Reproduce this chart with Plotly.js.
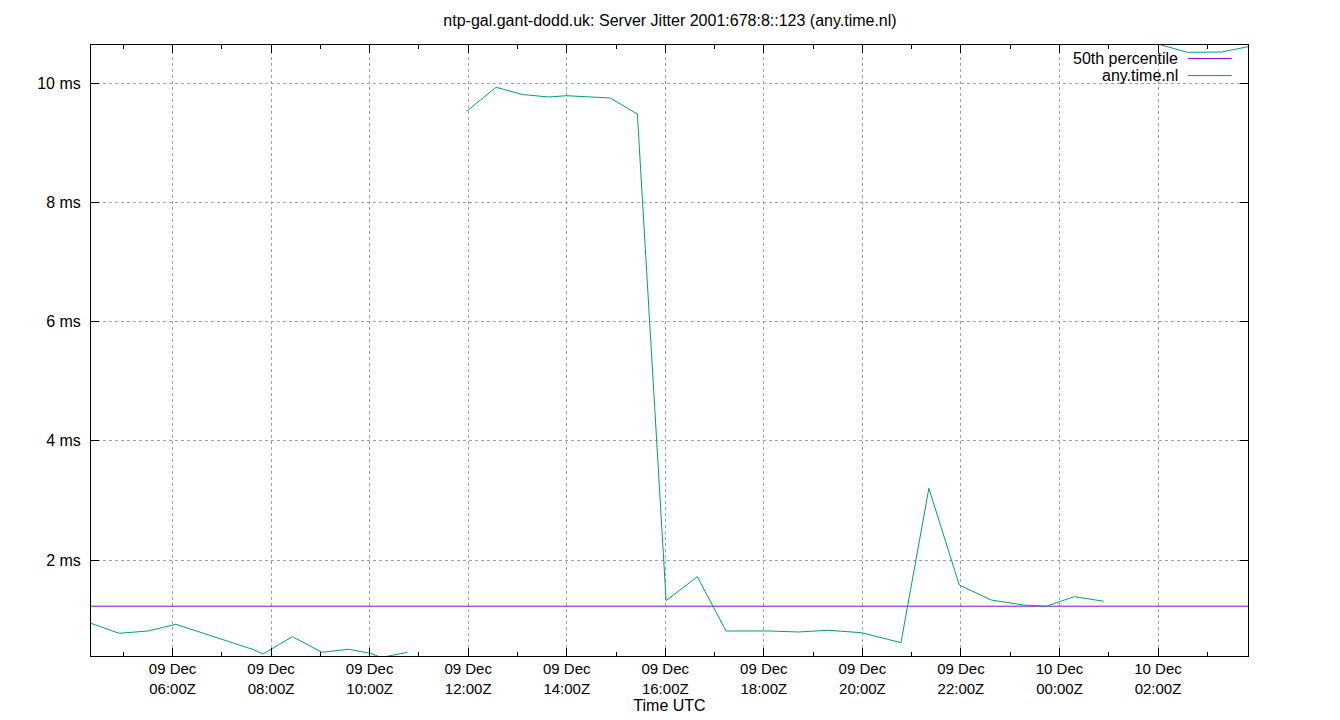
<!DOCTYPE html>
<html>
<head>
<meta charset="utf-8">
<script src="https://cdn.plot.ly/plotly-3.0.1.min.js"></script>
<style>html,body{margin:0;padding:0;background:#fff;}#chart{width:1340px;height:720px;}</style>
</head>
<body>
<div id="chart"></div>
<script>
// Jitter samples (time UTC, ms); null marks a gap in the data
var jitterTimes = [
  "2023-12-09 04:20:42", "2023-12-09 04:55", "2023-12-09 05:30", "2023-12-09 06:04",
  "2023-12-09 06:39", "2023-12-09 07:14", "2023-12-09 07:39", "2023-12-09 07:50",
  "2023-12-09 08:26", "2023-12-09 09:02", "2023-12-09 09:34", "2023-12-09 10:01",
  "2023-12-09 10:14", "2023-12-09 10:46",
  "2023-12-09 11:20",
  "2023-12-09 11:58", "2023-12-09 12:34", "2023-12-09 13:06", "2023-12-09 13:38",
  "2023-12-09 14:00", "2023-12-09 14:26", "2023-12-09 14:53", "2023-12-09 15:26",
  "2023-12-09 16:01", "2023-12-09 16:39", "2023-12-09 17:14", "2023-12-09 18:07",
  "2023-12-09 18:42", "2023-12-09 19:18", "2023-12-09 19:59", "2023-12-09 20:47",
  "2023-12-09 21:21", "2023-12-09 21:58", "2023-12-09 22:37", "2023-12-09 23:16",
  "2023-12-09 23:44", "2023-12-10 00:18", "2023-12-10 00:54",
  "2023-12-10 01:30",
  "2023-12-10 02:02", "2023-12-10 02:36", "2023-12-10 03:17", "2023-12-10 03:49:34"
];
var jitterMs = [
  0.938, 0.770, 0.809, 0.921,
  0.764, 0.608, 0.495, 0.423,
  0.713, 0.451, 0.502, 0.435,
  0.364, 0.451,
  null,
  9.532, 9.935, 9.814, 9.772,
  9.794, 9.772, 9.755, 9.486,
  1.318, 1.720, 0.809, 0.809,
  0.792, 0.821, 0.780, 0.613,
  3.204, 1.581, 1.329, 1.245,
  1.224, 1.385, 1.307,
  null,
  10.653, 10.522, 10.527, 10.616
];
// 50th percentile reference line
var pctTimes = ["2023-12-09 04:20:42", "2023-12-10 03:49:34"];
var pctMs = [1.225, 1.225];

// Axis ticks
var xTickVals = ["2023-12-09 06:00", "2023-12-09 08:00", "2023-12-09 10:00", "2023-12-09 12:00",
  "2023-12-09 14:00", "2023-12-09 16:00", "2023-12-09 18:00", "2023-12-09 20:00",
  "2023-12-09 22:00", "2023-12-10 00:00", "2023-12-10 02:00"];
var xTickText = ["09 Dec<br>06:00Z", "09 Dec<br>08:00Z", "09 Dec<br>10:00Z", "09 Dec<br>12:00Z",
  "09 Dec<br>14:00Z", "09 Dec<br>16:00Z", "09 Dec<br>18:00Z", "09 Dec<br>20:00Z",
  "09 Dec<br>22:00Z", "10 Dec<br>00:00Z", "10 Dec<br>02:00Z"];
var yTickVals = [2, 4, 6, 8, 10];
var yTickText = ["2 ms", "4 ms", "6 ms", "8 ms", "10 ms"];

var seriesNames = ["50th percentile", "any.time.nl"];
var seriesColors = ["#9400d3", "#009e73"];

var FONT = "Liberation Sans, Arial, sans-serif";
var FS = 16;

var traces = [
  {x: pctTimes, y: pctMs, type: "scatter", mode: "lines", name: seriesNames[0],
   line: {color: seriesColors[0], width: 1}, showlegend: false},
  {x: jitterTimes, y: jitterMs, type: "scatter", mode: "lines", name: seriesNames[1],
   line: {color: seriesColors[1], width: 1}, connectgaps: false, showlegend: false}
];

var legendRows = [0.978, 0.950];
var annotations = [];
var shapes = [];
for (var i = 0; i < seriesNames.length; i++) {
  annotations.push({xref: "paper", yref: "paper", x: 0.941, y: legendRows[i],
    xanchor: "right", yanchor: "middle", showarrow: false, text: seriesNames[i],
    font: {family: FONT, size: FS, color: "#000"}});
  shapes.push({type: "line", xref: "paper", yref: "paper", x0: 0.948, x1: 0.986,
    y0: legendRows[i], y1: legendRows[i], line: {color: seriesColors[i], width: 1}});
}

var layout = {
  width: 1340, height: 720,
  paper_bgcolor: "#fff", plot_bgcolor: "#fff",
  margin: {l: 91, r: 92, t: 45, b: 64, pad: 0},
  font: {family: FONT, size: FS, color: "#000"},
  title: {text: "ntp-gal.gant-dodd.uk: Server Jitter 2001:678:8::123 (any.time.nl)",
    x: 0.5, xanchor: "center", y: 0.971, yanchor: "middle", font: {family: FONT, size: FS, color: "#000"}},
  xaxis: {
    type: "date",
    range: ["2023-12-09 04:20:42", "2023-12-10 03:49:34"],
    tickmode: "array", tickvals: xTickVals, ticktext: xTickText,
    ticks: "inside", ticklen: 8, tickcolor: "#000", tickwidth: 1,
    showline: true, linecolor: "#000", linewidth: 1, mirror: "allticks",
    showgrid: true, gridcolor: "#a0a0a0", griddash: "dot", gridwidth: 1,
    zeroline: false,
    minor: {dtick: 3600000, tick0: "2023-12-09 05:00", ticks: "inside", ticklen: 4, tickcolor: "#000", showgrid: false},
    tickfont: {family: FONT, size: 15, color: "#000"},
    ticklabelstandoff: -1,
    title: {text: "Time UTC", font: {family: FONT, size: FS, color: "#000"}, standoff: 4}
  },
  yaxis: {
    range: [0.389, 10.645],
    tickmode: "array", tickvals: yTickVals, ticktext: yTickText,
    ticks: "inside", ticklen: 8, tickcolor: "#000", tickwidth: 1,
    showline: true, linecolor: "#000", linewidth: 1, mirror: "allticks",
    showgrid: true, gridcolor: "#a0a0a0", griddash: "dot", gridwidth: 1,
    zeroline: false,
    tickfont: {family: FONT, size: FS, color: "#000"},
    ticklabelstandoff: 6
  },
  annotations: annotations,
  shapes: shapes,
  showlegend: false
};

Plotly.newPlot("chart", traces, layout, {displayModeBar: false, staticPlot: true});
</script>
</body>
</html>
